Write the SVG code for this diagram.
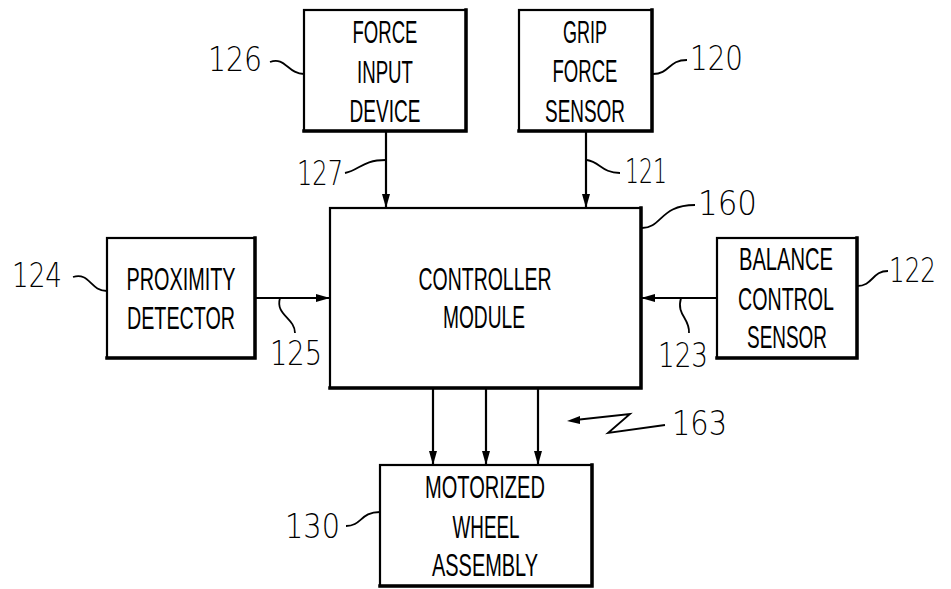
<svg xmlns="http://www.w3.org/2000/svg" width="951" height="589" viewBox="0 0 951 589">
<style>
.box{fill:#fff;stroke:#000;stroke-width:2.2}
.sh{fill:none;stroke:#000;stroke-width:3.5;stroke-linecap:square}
.t{font-family:"Liberation Sans",Arial,sans-serif;font-size:31px;fill:#000;text-anchor:middle}
.n{font-family:"DejaVu Sans","Liberation Sans",sans-serif;font-weight:200;font-size:33px;fill:#000}
.c{fill:none;stroke:#000;stroke-width:2.2}
.l{fill:none;stroke:#000;stroke-width:1.8}
</style>
<defs>
<marker id="ah" viewBox="0 0 14 8" refX="14" refY="4" markerWidth="14" markerHeight="8" markerUnits="userSpaceOnUse" orient="auto">
<path d="M0,0 L14,4 L0,8 Z" fill="#000"/>
</marker>
</defs>
<rect width="951" height="589" fill="#fff"/>
<g id="connectors">
<line class="c" x1="386" y1="131" x2="386" y2="208" marker-end="url(#ah)"/>
<line class="c" x1="586" y1="131" x2="586" y2="208" marker-end="url(#ah)"/>
<line class="c" x1="255" y1="298" x2="330" y2="298" marker-end="url(#ah)"/>
<line class="c" x1="717" y1="298" x2="641" y2="298" marker-end="url(#ah)"/>
<line class="c" x1="433" y1="388" x2="433" y2="465" marker-end="url(#ah)"/>
<line class="c" x1="486" y1="388" x2="486" y2="465" marker-end="url(#ah)"/>
<line class="c" x1="538" y1="388" x2="538" y2="465" marker-end="url(#ah)"/>
</g>
<g id="n126">
<rect class="box" x="304" y="10" width="162" height="121"/>
<path class="sh" d="M466,10 V131 H304"/>
<text class="t" x="385" y="43" textLength="65" lengthAdjust="spacingAndGlyphs">FORCE</text>
<text class="t" x="385" y="83" textLength="56" lengthAdjust="spacingAndGlyphs">INPUT</text>
<text class="t" x="385" y="122" textLength="71" lengthAdjust="spacingAndGlyphs">DEVICE</text>
</g>
<g id="n120">
<rect class="box" x="519" y="10" width="133" height="121"/>
<path class="sh" d="M652,10 V131 H519"/>
<text class="t" x="585" y="43" textLength="44" lengthAdjust="spacingAndGlyphs">GRIP</text>
<text class="t" x="585" y="82" textLength="65" lengthAdjust="spacingAndGlyphs">FORCE</text>
<text class="t" x="585" y="122" textLength="80" lengthAdjust="spacingAndGlyphs">SENSOR</text>
</g>
<g id="n160">
<rect class="box" x="330" y="208" width="311" height="180"/>
<path class="sh" d="M641,208 V388 H330"/>
<text class="t" x="485" y="290" textLength="133" lengthAdjust="spacingAndGlyphs">CONTROLLER</text>
<text class="t" x="484" y="328" textLength="82" lengthAdjust="spacingAndGlyphs">MODULE</text>
</g>
<g id="n124">
<rect class="box" x="107" y="238" width="148" height="120"/>
<path class="sh" d="M255,238 V358 H107"/>
<text class="t" x="181" y="290" textLength="109" lengthAdjust="spacingAndGlyphs">PROXIMITY</text>
<text class="t" x="181" y="329" textLength="108" lengthAdjust="spacingAndGlyphs">DETECTOR</text>
</g>
<g id="n122">
<rect class="box" x="717" y="238" width="140" height="120"/>
<path class="sh" d="M857,238 V358 H717"/>
<text class="t" x="786" y="270" textLength="94" lengthAdjust="spacingAndGlyphs">BALANCE</text>
<text class="t" x="786" y="310" textLength="96" lengthAdjust="spacingAndGlyphs">CONTROL</text>
<text class="t" x="787" y="348" textLength="80" lengthAdjust="spacingAndGlyphs">SENSOR</text>
</g>
<g id="n130">
<rect class="box" x="380" y="465" width="212" height="121"/>
<path class="sh" d="M592,465 V586 H380"/>
<text class="t" x="485" y="498" textLength="120" lengthAdjust="spacingAndGlyphs">MOTORIZED</text>
<text class="t" x="486" y="538" textLength="67" lengthAdjust="spacingAndGlyphs">WHEEL</text>
<text class="t" x="485" y="576" textLength="106" lengthAdjust="spacingAndGlyphs">ASSEMBLY</text>
</g>
<g id="labels">
<path class="l" d="M270,62 C285,56 288,74 304,74"/>
<text class="n" x="208" y="71" textLength="54" lengthAdjust="spacingAndGlyphs">126</text>
<path class="l" d="M345,173 C360,170 362,160 386,160"/>
<text class="n" x="297" y="185" textLength="46" lengthAdjust="spacingAndGlyphs">127</text>
<path class="l" d="M587,160 C600,162 602,173 620,173"/>
<text class="n" x="625" y="183" textLength="42" lengthAdjust="spacingAndGlyphs">121</text>
<path class="l" d="M653,74 C670,74 668,60 687,60"/>
<text class="n" x="690" y="70" textLength="53" lengthAdjust="spacingAndGlyphs">120</text>
<path class="l" d="M642,228 C662,228 660,205 695,205"/>
<text class="n" x="698" y="215" textLength="59" lengthAdjust="spacingAndGlyphs">160</text>
<path class="l" d="M73,277 C90,272 90,291 107,291"/>
<text class="n" x="12" y="287" textLength="50" lengthAdjust="spacingAndGlyphs">124</text>
<path class="l" d="M280,298 C275,315 295,318 295,333"/>
<text class="n" x="270" y="365" textLength="52" lengthAdjust="spacingAndGlyphs">125</text>
<path class="l" d="M681,298 C676,315 690,318 689,333"/>
<text class="n" x="658" y="367" textLength="50" lengthAdjust="spacingAndGlyphs">123</text>
<path class="l" d="M857,286 C873,286 872,271 888,271"/>
<text class="n" x="889" y="282" textLength="47" lengthAdjust="spacingAndGlyphs">122</text>
<path class="l" d="M346,526 C362,526 360,512 380,512"/>
<text class="n" x="285" y="538" textLength="55" lengthAdjust="spacingAndGlyphs">130</text>
<path class="l" d="M665,425 L608,433 L630,414 L575,420"/>
<path d="M567,421 L580,416 L580,424 Z" fill="#000"/>
<text class="n" x="672" y="435" textLength="55" lengthAdjust="spacingAndGlyphs">163</text>
</g>
</svg>
